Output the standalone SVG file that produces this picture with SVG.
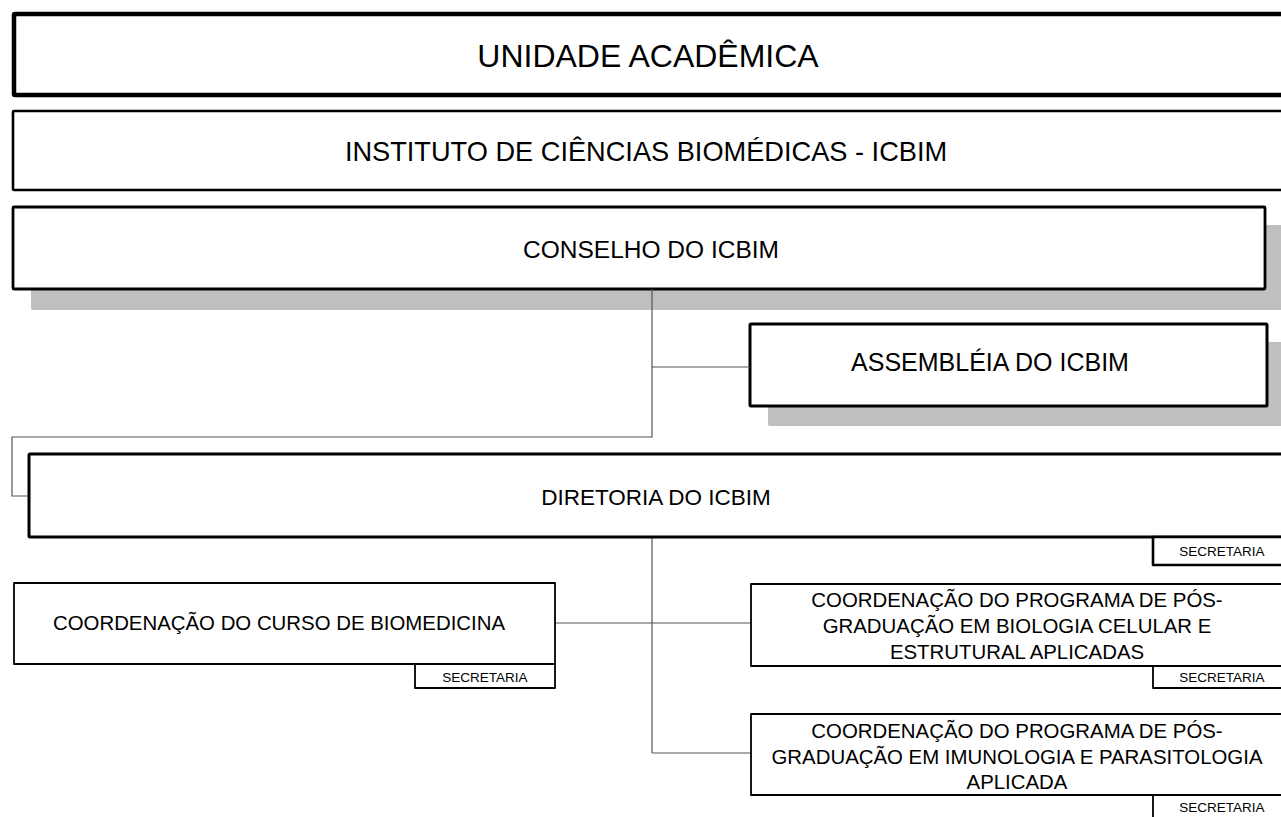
<svg xmlns="http://www.w3.org/2000/svg" width="1281" height="817" viewBox="0 0 1281 817">
<style>
.box{fill:#fff;stroke:#000;stroke-linejoin:round}
.sh{fill:#bfbfbf}
.t{font-family:"Liberation Sans",Arial,sans-serif;fill:#000;text-anchor:middle}
.c{fill:none;stroke:#555;stroke-width:1.2}
.sec{font-size:13.5px}
.co{font-size:20.4px}
</style>
<rect width="1281" height="817" fill="#fff"/>
<g id="unidade">
<rect class="box" x="14" y="14" width="1290" height="81" stroke-width="4.5" rx="1"/>
<text class="t" x="648" y="67" font-size="32">UNIDADE ACADÊMICA</text>
</g>
<g id="instituto">
<rect class="box" x="13" y="111" width="1290" height="79" stroke-width="2.6" rx="1"/>
<text class="t" x="646" y="161" font-size="27.2">INSTITUTO DE CIÊNCIAS BIOMÉDICAS - ICBIM</text>
</g>
<g id="conselho">
<rect class="sh" x="31" y="225" width="1270" height="85" rx="2"/>
<rect class="box" x="13" y="207" width="1252" height="82" stroke-width="2.8" rx="1"/>
<text class="t" x="651" y="258" font-size="24.5">CONSELHO DO ICBIM</text>
</g>
<g id="assembleia">
<rect class="sh" x="768" y="342" width="520" height="84" rx="2"/>
<rect class="box" x="750" y="324" width="517" height="82" stroke-width="3" rx="1"/>
<text class="t" x="990" y="371" font-size="25">ASSEMBLÉIA DO ICBIM</text>
</g>
<g id="connectors">
<polyline class="c" points="652,289 652,437 12,437 12,496 29,496"/>
<line class="c" x1="652" y1="367" x2="750" y2="367" stroke="#000"/>
<line class="c" x1="652" y1="537" x2="652" y2="753"/>
<line class="c" x1="555" y1="623" x2="750" y2="623"/>
<line class="c" x1="652" y1="753" x2="750" y2="753"/>
</g>
<g id="diretoria">
<rect class="box" x="29" y="454" width="1270" height="83" stroke-width="3" rx="1"/>
<text class="t" x="656" y="505" font-size="22.5">DIRETORIA DO ICBIM</text>
</g>
<g id="secretaria-diretoria">
<rect class="box" x="1153" y="537" width="140" height="28" stroke-width="2.6"/>
<text class="t sec" x="1222" y="556">SECRETARIA</text>
</g>
<g id="coord-biomedicina">
<rect class="box" x="14" y="583" width="541" height="81" stroke-width="1.8"/>
<text class="t co" x="279" y="630">COORDENAÇÃO DO CURSO DE BIOMEDICINA</text>
</g>
<g id="secretaria-biomedicina">
<rect class="box" x="415" y="664" width="140" height="24" stroke-width="1.8"/>
<text class="t sec" x="485" y="682">SECRETARIA</text>
</g>
<g id="coord-biologia">
<rect class="box" x="751" y="584" width="550" height="82" stroke-width="1.8"/>
<text class="t co"><tspan x="1017" y="607">COORDENAÇÃO DO PROGRAMA DE PÓS-</tspan><tspan x="1017" y="633">GRADUAÇÃO EM BIOLOGIA CELULAR E</tspan><tspan x="1017" y="659">ESTRUTURAL APLICADAS</tspan></text>
</g>
<g id="secretaria-biologia">
<rect class="box" x="1153" y="666" width="140" height="22" stroke-width="1.8"/>
<text class="t sec" x="1222" y="682">SECRETARIA</text>
</g>
<g id="coord-imunologia">
<rect class="box" x="751" y="714" width="550" height="81" stroke-width="1.8"/>
<text class="t co"><tspan x="1017" y="738">COORDENAÇÃO DO PROGRAMA DE PÓS-</tspan><tspan x="1017" y="764">GRADUAÇÃO EM IMUNOLOGIA E PARASITOLOGIA</tspan><tspan x="1017" y="789">APLICADA</tspan></text>
</g>
<g id="secretaria-imunologia">
<rect class="box" x="1153" y="795" width="140" height="30" stroke-width="1.8"/>
<text class="t sec" x="1222" y="812">SECRETARIA</text>
</g>
</svg>
